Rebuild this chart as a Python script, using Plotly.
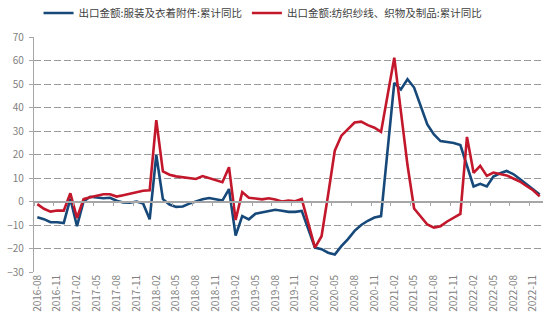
import pandas as pd
import plotly.graph_objects as go

# Monthly categories 2016-08 .. 2022-12
months = [p.strftime("%Y-%m") for p in pd.period_range("2016-08", "2022-12", freq="M")]
tick_labels = months[::3]

# Cumulative YoY export growth (%), None = month not published
garments = [
    -6.7, -7.5, -8.8, -8.8, -9.2, 1.2, -10.5, 0.0, 2.0, 1.8, 1.4, 1.6,
    0.3, -0.4, -0.5, 0.0, -0.8, -7.6, 19.8, 1.0, -1.3, -2.3, -2.1, -0.9,
    0.0, 1.0, 1.5, 1.0, 0.4, 5.3, -14.5, -6.2, -7.6, -5.2, -4.6, -4.1,
    -3.5, -3.9, -4.4, -4.4, -4.0, None, -19.6, -20.3, -21.8, -22.6, -19.0, -16.0,
    -12.5, -10.0, -8.2, -6.8, -6.2, None, 50.5, 47.7, 52.0, 48.5, 40.5, 32.8,
    28.5, 25.7, 25.3, 24.9, 24.0, None, 6.4, 7.5, 6.4, 10.6, 12.0, 13.0,
    11.7, 9.6, 7.4, 5.2, 3.0,
]
textiles = [
    -1.1, -3.1, -4.3, -3.8, -3.9, 3.5, -7.0, 1.0, 1.8, 2.4, 3.1, 3.1,
    2.1, 2.7, 3.3, 4.0, 4.6, 4.8, 34.6, 12.8, 11.4, 10.7, 10.3, 10.0,
    9.6, 10.8, 10.0, 9.3, 8.2, 14.6, -7.9, 4.0, 1.6, 1.3, 0.9, 1.4,
    0.9, 0.0, 0.4, 0.1, 1.1, None, -19.6, -14.8, 3.0, 21.6, 28.0, 31.0,
    33.6, 34.0, 32.5, 31.4, 29.6, None, 61.2, 38.0, 15.5, -3.0, -6.4, -9.8,
    -11.1, -10.5, -8.5, -7.0, -5.3, 27.5, 12.2, 15.2, 10.9, 12.3, 11.8, 11.1,
    9.8, 8.5, 6.6, 4.8, 2.2,
]

series_names = ["出口金额:服装及衣着附件:累计同比", "出口金额:纺织纱线、织物及制品:累计同比"]
colors = ["#16497A", "#C3172B"]

FONT = "Noto Sans CJK SC"
GRAY = "#7F7F7F"
AXIS = "#A6A6A6"

fig = go.Figure()
for name, vals, col in zip(series_names, [garments, textiles], colors):
    fig.add_trace(go.Scatter(
        x=months, y=vals, name=name, mode="lines", connectgaps=True,
        line=dict(color=col, width=2.6),
    ))

# invisible trace carrying the axis that sits on the zero line
fig.add_trace(go.Scatter(x=months, y=[None] * len(months), xaxis="x2",
                         showlegend=False, hoverinfo="skip"))

fig.update_layout(
    width=550, height=322,
    margin=dict(l=34, r=7, t=37, b=50, autoexpand=False),
    paper_bgcolor="white", plot_bgcolor="white",
    font=dict(family=FONT, size=10, color=GRAY),
    showlegend=True,
    legend=dict(
        orientation="h", x=0.45, xanchor="center", y=1.102, yanchor="middle",
        font=dict(family=FONT, size=10.5, color="#404040"),
        itemwidth=30, entrywidth=0, traceorder="normal",
    ),
    xaxis=dict(
        type="category", categoryorder="array", categoryarray=months,
        range=[-0.5, len(months) - 0.5],
        tickmode="array", tickvals=tick_labels, ticktext=tick_labels,
        tickangle=-90, showgrid=False, showline=False, ticks="",
        zeroline=False, automargin=False, tickfont=dict(size=10, color=GRAY),
    ),
    xaxis2=dict(
        type="category", categoryorder="array", categoryarray=months,
        range=[-0.5, len(months) - 0.5],
        overlaying="x", anchor="free", position=0.3,
        tickmode="linear", tick0=0, dtick=3, tickson="boundaries",
        ticks="outside", ticklen=4, tickcolor=AXIS, tickwidth=1.2,
        showticklabels=False, showgrid=False, zeroline=False,
        showline=True, linecolor=AXIS, linewidth=1.5,
    ),
    yaxis=dict(
        range=[-30, 70], dtick=10, tick0=0,
        showgrid=True, gridcolor="#9A9A9A", gridwidth=1.2, griddash="7px,3px",
        zeroline=False, showline=True, linecolor=AXIS, linewidth=1.2,
        ticks="outside", ticklen=4, tickcolor=AXIS, ticklabelstandoff=3,
        automargin=False, tickfont=dict(size=10, color=GRAY),
    ),
)

fig.write_html("out.html")
